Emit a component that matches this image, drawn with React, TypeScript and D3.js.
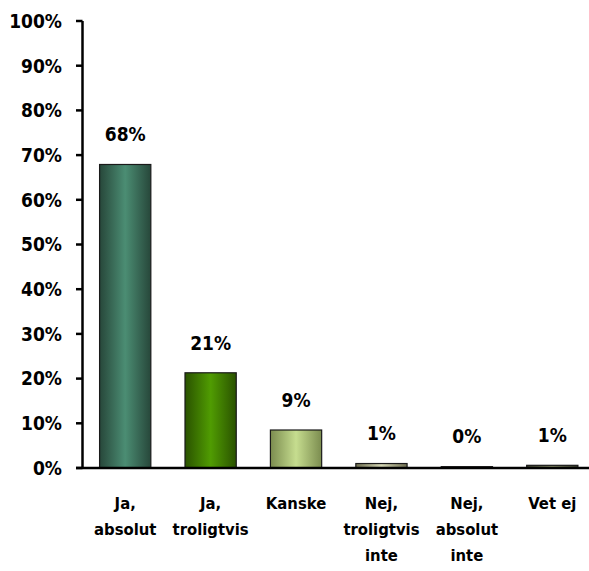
import React from "react";
import * as d3 from "d3";

const categories: string[][] = [
  ["Ja,", "absolut"],
  ["Ja,", "troligtvis"],
  ["Kanske"],
  ["Nej,", "troligtvis", "inte"],
  ["Nej,", "absolut", "inte"],
  ["Vet ej"],
];
const values = [67.9, 21.3, 8.5, 1.0, 0.3, 0.6];
const valueLabels = ["68%", "21%", "9%", "1%", "0%", "1%"];
const yTicks = [0, 10, 20, 30, 40, 50, 60, 70, 80, 90, 100];
const barColors = [
  { edge: "#27473a", mid: "#4b8d73" },
  { edge: "#2a5200", mid: "#509c02" },
  { edge: "#7b8c4f", mid: "#c6dd8f" },
  { edge: "#6e6e50", mid: "#d4d6b4" },
  { edge: "#6e3030", mid: "#d07070" },
  { edge: "#3a3e2c", mid: "#8a906a" },
];

const W = 589;
const H = 571;
const FONT = "'DejaVu Sans Condensed', 'DejaVu Sans', sans-serif";

export default function App() {
  const x = d3
    .scaleBand<number>()
    .domain(d3.range(categories.length))
    .range([82.5, 595])
    .paddingInner(0.4)
    .paddingOuter(0.2);
  const y = d3.scaleLinear().domain([0, 100]).range([468, 21]);

  return (
    <svg
      width={W}
      height={H}
      style={{ position: "absolute", left: 0, top: 0, background: "#fff" }}
    >
      <defs>
        {barColors.map((c, i) => (
          <linearGradient key={i} id={`g${i}`} x1="0" x2="1" y1="0" y2="0">
            <stop offset="0" stopColor={c.edge} />
            <stop offset="0.5" stopColor={c.mid} />
            <stop offset="1" stopColor={c.edge} />
          </linearGradient>
        ))}
      </defs>
      {/* y axis */}
      <line x1={82.5} x2={82.5} y1={y(100)} y2={y(0)} stroke="#000" strokeWidth={2.5} />
      {yTicks.map((t) => (
        <g key={t}>
          <line x1={76} x2={82.5} y1={y(t)} y2={y(t)} stroke="#000" strokeWidth={2.5} />
          <text
            x={62}
            y={y(t)}
            dy="0.36em"
            textAnchor="end"
            fontFamily={FONT}
            fontWeight="bold"
            fontSize={19}
            fill="#000"
          >
            {t}%
          </text>
        </g>
      ))}
      {/* bars */}
      {values.map((v, i) => (
        <g key={i}>
          <rect
            x={x(i)!}
            y={y(v)}
            width={x.bandwidth()}
            height={y(0) - y(v)}
            fill={`url(#g${i})`}
            stroke="#1a1a1a"
            strokeWidth={1.2}
          />
          <text
            x={x(i)! + x.bandwidth() / 2}
            y={y(v) - 30}
            dy="0.36em"
            textAnchor="middle"
            fontFamily={FONT}
            fontWeight="bold"
            fontSize={19}
            fill="#000"
          >
            {valueLabels[i]}
          </text>
          {categories[i].map((line, j) => (
            <text
              key={j}
              x={x(i)! + x.bandwidth() / 2}
              y={503 + j * 26}
              dy="0.36em"
              textAnchor="middle"
              fontFamily={FONT}
              fontWeight="bold"
              fontSize={16.5}
              fill="#000"
            >
              {line}
            </text>
          ))}
        </g>
      ))}
      {/* x axis */}
      <line x1={76} x2={W} y1={y(0)} y2={y(0)} stroke="#000" strokeWidth={2.5} />
    </svg>
  );
}
